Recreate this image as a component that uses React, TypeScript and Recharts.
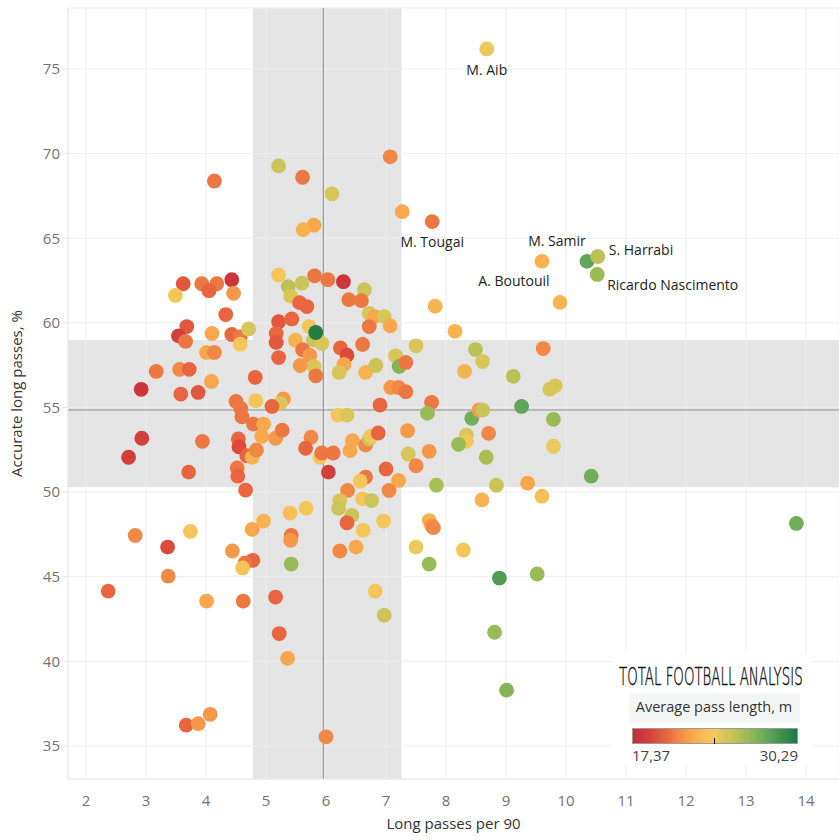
import { ScatterChart, Scatter, XAxis, YAxis, CartesianGrid, ReferenceArea, ReferenceLine } from 'recharts'

// long passes per 90 (x), accurate long passes % (y), average pass length in m (colour)
const longPassesP90 = [
  8.68, 7.77, 10.35, 10.53, 10.52, 9.9, 7.07, 7.27, 9.6, 7.82,
  8.15, 5.21, 5.61, 4.14, 6.1, 5.8, 5.62, 5.21, 5.81, 6.03,
  6.29, 4.43, 3.62, 3.93, 4.18, 4.05, 4.46, 3.49, 5.37, 5.6,
  5.41, 5.56, 5.68, 6.64, 6.38, 6.59, 4.33, 5.21, 5.43, 6.72,
  6.81, 6.97, 6.72, 7.07, 3.68, 3.54, 3.66, 4.1, 4.43, 4.57,
  4.57, 4.71, 4.01, 4.14, 5.17, 5.17, 5.49, 5.72, 5.79, 5.93,
  5.61, 5.73, 6.24, 6.35, 6.61, 6.3, 5.8, 5.57, 5.21, 5.83,
  6.22, 6.66, 6.83, 7.16, 7.22, 7.33, 7.5, 3.17, 3.56, 3.72,
  4.82, 4.09, 2.92, 3.58, 3.87, 4.5, 4.83, 4.58, 5.29, 5.24,
  5.1, 6.9, 7.08, 7.21, 7.33, 6.2, 6.35, 8.49, 8.61, 8.31,
  9.12, 9.62, 9.73, 9.82, 7.76, 7.69, 8.43, 9.26, 9.79, 8.55,
  8.61, 8.71, 8.34, 8.34, 8.21, 8.67, 9.79, 10.42, 7.84, 8.84,
  9.36, 8.6, 9.6, 7.72, 13.84, 7.72, 7.76, 7.79, 7.5, 8.29,
  7.72, 8.89, 9.52, 8.81, 9.01, 2.71, 2.93, 3.71, 3.94, 4.54,
  4.55, 4.68, 4.77, 4.84, 4.52, 4.53, 4.66, 4.6, 4.79, 4.96,
  4.93, 5.16, 5.27, 5.75, 5.66, 5.9, 5.93, 6.12, 6.04, 6.4,
  6.44, 6.66, 6.72, 6.75, 6.87, 7.36, 7.0, 6.66, 6.57, 7.21,
  7.37, 7.5, 7.05, 6.36, 6.23, 6.21, 6.61, 6.76, 5.67, 5.4,
  6.43, 6.35, 6.96, 4.96, 4.77, 3.74, 2.82, 6.62, 5.42, 5.41,
  3.36, 4.44, 6.23, 6.5, 4.78, 4.65, 4.61, 5.42, 3.37, 2.37,
  4.01, 4.62, 5.16, 6.82, 6.97, 5.22, 5.36, 3.67, 3.87, 4.07, 6.0, 5.83,
]

const accuratePct = [
  76.18, 65.98, 63.63, 63.92, 62.86, 61.21, 69.81, 66.57, 63.63, 60.98,
  59.5, 69.27, 68.6, 68.38, 67.62, 65.77, 65.5, 62.82, 62.78, 62.55,
  62.43, 62.55, 62.31, 62.31, 62.31, 61.9, 61.74, 61.62, 62.14, 62.35,
  61.58, 61.19, 60.96, 61.96, 61.37, 61.31, 60.49, 60.07, 60.23, 60.55,
  60.37, 60.37, 59.78, 59.82, 59.78, 59.23, 58.9, 59.37, 59.31, 59.17,
  58.74, 59.64, 58.25, 58.25, 59.37, 58.84, 58.97, 59.78, 58.99, 58.78,
  58.41, 58.09, 58.52, 58.09, 58.72, 57.54, 57.42, 57.48, 57.95, 56.87,
  57.07, 57.07, 57.48, 58.05, 57.42, 57.66, 58.64, 57.13, 57.25, 57.25,
  56.78, 56.54, 56.07, 55.79, 55.89, 55.36, 55.4, 54.95, 55.5, 55.24,
  55.06, 55.14, 56.18, 56.18, 55.93, 54.55, 54.55, 58.42, 57.72, 57.13,
  56.84, 58.48, 56.08, 56.28, 55.3, 54.65, 54.36, 55.06, 54.3, 54.85,
  54.85, 53.47, 53.37, 53.0, 52.82, 52.06, 52.71, 50.94, 50.41, 50.41,
  50.53, 49.54, 49.76, 52.41, 48.15, 48.32, 48.03, 47.9, 46.75, 46.58,
  45.75, 44.92, 45.16, 41.72, 38.3, 52.06, 53.18, 51.18, 53.0, 53.14,
  52.68, 52.15, 52.06, 52.49, 51.43, 50.94, 50.12, 54.45, 54.02, 54.02,
  53.3, 53.18, 53.66, 53.24, 52.59, 52.06, 52.31, 52.31, 51.18, 52.45,
  53.04, 52.78, 53.14, 53.3, 53.49, 53.63, 51.37, 50.89, 50.65, 50.69,
  52.25, 51.56, 50.1, 50.1, 49.5, 49.05, 49.6, 49.5, 49.05, 48.76,
  48.62, 48.19, 48.29, 48.29, 47.8, 47.68, 47.44, 47.74, 47.44, 47.15,
  46.75, 46.52, 46.52, 46.75, 45.97, 45.81, 45.52, 45.75, 45.03, 44.15,
  43.56, 43.56, 43.8, 44.15, 42.72, 41.64, 40.18, 36.23, 36.32, 36.87, 35.54, 59.43,
]

const avgPassLength = [
  24, 20.5, 28, 25.5, 26.5, 22.5, 21, 22, 22.5, 22.5,
  22.5, 25, 20.5, 20.5, 24.5, 22, 22.5, 23.5, 20.5, 20.5,
  18, 18, 19.5, 20.5, 20.5, 20, 21.5, 23.5, 25.5, 25,
  24.5, 20, 20, 25, 20.5, 20.5, 20, 19.5, 20, 24.5,
  22, 24.5, 20.5, 22, 19.5, 18.5, 20.5, 22, 20, 20.5,
  23.5, 24.5, 22, 21, 20, 19.5, 22.5, 23.5, 25, 24.5,
  20.5, 21.5, 20, 19, 20.5, 22, 24.5, 21.5, 20, 20.5,
  24.5, 22.5, 25, 24.5, 27, 20.5, 24.5, 20.5, 21, 20,
  20, 22, 18, 20, 19.5, 20.5, 23.5, 20.5, 21.5, 24.5,
  20, 20, 21.5, 21, 20.5, 23.5, 24.5, 25.5, 24.5, 22.5,
  25.5, 21, 24.5, 24.5, 20.5, 26.5, 27.5, 28, 26.5, 21.5,
  25, 21, 24.5, 23.5, 26.5, 26, 24, 27.5, 26, 25,
  22, 22.5, 23, 21.5, 27.5, 22.5, 21.5, 21, 24, 23.5,
  26.5, 28.5, 26.5, 26.5, 27, 18.5, 18.5, 20, 20.5, 20,
  19, 20, 22.5, 21, 20.5, 20, 20, 20.5, 20.5, 22,
  22, 21.5, 20.5, 21, 20, 23.5, 20.5, 20.5, 18.5, 22,
  22, 21, 25, 24, 20, 21.5, 20, 20.5, 23.5, 22,
  24.5, 21, 21, 21, 24.5, 25, 23.5, 25, 23.5, 23,
  25, 20, 23.5, 22.5, 22, 23.5, 21, 23.5, 20.5, 21.5,
  19, 21.5, 21, 22, 20, 20.5, 23.5, 26.5, 21, 20,
  22, 20.5, 20, 23.5, 25, 20, 22, 20, 21.5, 21.5, 21, 30,
]

// the first points in the arrays carry a name label
const playerNames = ['M. Aib', 'M. Tougai', 'M. Samir', 'S. Harrabi', 'Ricardo Nascimento', 'A. Boutouil']

const xTicks = [2, 3, 4, 5, 6, 7, 8, 9, 10, 11, 12, 13, 14]
const yTicks = [35, 40, 45, 50, 55, 60, 65, 70, 75]
const lengthMin = 17.37
const lengthMax = 30.29
const bandX = [4.78, 7.26]
const bandY = [50.28, 58.99]
const avgX = 5.955
const avgY = 54.85

const colorStops: [number, string][] = [
  [17.37, '#c3263a'],
  [19, '#dc4a3c'],
  [20, '#e8653f'],
  [21, '#f28845'],
  [22, '#f8a74c'],
  [23, '#f7bf56'],
  [23.83, '#f2ca5c'],
  [24.5, '#d8c65b'],
  [25.5, '#bcc156'],
  [26.5, '#98bb55'],
  [28, '#5fa65b'],
  [30.29, '#1b783f'],
]

const labelPos: Record<string, { dx: number; dy: number; anchor: 'start' | 'middle' | 'end' }> = {
  'M. Aib': { dx: 0, dy: 26, anchor: 'middle' },
  'M. Tougai': { dx: 0, dy: 25, anchor: 'middle' },
  'M. Samir': { dx: -30, dy: -15, anchor: 'middle' },
  'S. Harrabi': { dx: 11, dy: -1, anchor: 'start' },
  'Ricardo Nascimento': { dx: 10, dy: 16, anchor: 'start' },
  'A. Boutouil': { dx: -46, dy: -16, anchor: 'middle' },
}

const hex = (c: string) => [1, 3, 5].map((i) => parseInt(c.slice(i, i + 2), 16))

function lengthColor(v: number) {
  if (v <= colorStops[0][0]) return colorStops[0][1]
  for (let i = 1; i < colorStops.length; i++) {
    const [v1, c1] = colorStops[i]
    if (v <= v1) {
      const [v0, c0] = colorStops[i - 1]
      const t = (v - v0) / (v1 - v0)
      const a = hex(c0)
      const b = hex(c1)
      const rgb = a.map((k, j) => Math.round(k + (b[j] - k) * t))
      return `rgb(${rgb.join(',')})`
    }
  }
  return colorStops[colorStops.length - 1][1]
}

const players = longPassesP90.map((x, i) => ({
  x,
  y: accuratePct[i],
  len: avgPassLength[i],
  name: playerNames[i] ?? '',
}))

const FONT = '"Open Sans", "Noto Sans", sans-serif'

function PlayerDot(props: any) {
  const { cx, cy, payload } = props
  if (cx == null || cy == null) return null
  const lp = payload.name ? labelPos[payload.name] : null
  return (
    <g>
      <circle cx={cx} cy={cy} r={7.4} fill={lengthColor(payload.len)} />
      {lp && (
        <text x={cx + lp.dx} y={cy + lp.dy} textAnchor={lp.anchor} fontSize={14} fill="#222" fontFamily={FONT}>
          {payload.name}
        </text>
      )}
    </g>
  )
}

function Legend() {
  const span = lengthMax - lengthMin
  return (
    <svg width={839} height={840} style={{ position: 'absolute', left: 0, top: 0, pointerEvents: 'none' }}>
      <defs>
        <linearGradient id="lenGrad" x1="0" x2="1" y1="0" y2="0">
          {colorStops.map(([v, c]) => (
            <stop key={v} offset={(v - lengthMin) / span} stopColor={c} />
          ))}
        </linearGradient>
      </defs>
      <rect x={612} y={653} width={200} height={112} fill="#fff" />
      {/* logo: a condensed, squeezed wordmark */}
      <g transform="translate(619 685) scale(0.55 1)">
        <text
          x={0}
          y={0}
          fontSize={25}
          fontWeight={200}
          fontFamily='"DejaVu Sans", sans-serif'
          textLength={334}
          lengthAdjust="spacingAndGlyphs"
          fill="#151515"
          stroke="#151515"
          strokeWidth={0.5}
        >
          TOTAL FOOTBALL ANALYSIS
        </text>
      </g>
      <rect x={629} y={693} width={171} height={30} fill="#f4f6f6" />
      <text x={714} y={712} textAnchor="middle" fontSize={14.5} fill="#333" fontFamily={FONT}>
        Average pass length, m
      </text>
      <rect x={632.5} y={728.5} width={165} height={15} fill="url(#lenGrad)" stroke="#9a9a9a" />
      <line x1={714.5} x2={714.5} y1={738} y2={744} stroke="#111" />
      <text x={632} y={761} fontSize={15} fill="#444" fontFamily={FONT}>
        17,37
      </text>
      <text x={798} y={761} textAnchor="end" fontSize={15} fill="#444" fontFamily={FONT}>
        30,29
      </text>
    </svg>
  )
}

export default function App() {
  return (
    <div style={{ position: 'absolute', left: 0, top: 0, width: 839, height: 840, background: '#fff', fontFamily: FONT }}>
      <ScatterChart width={839} height={840} margin={{ top: 8, right: 0, bottom: 0, left: 0 }}>
        <ReferenceArea x1={bandX[0]} x2={bandX[1]} fill="#e4e4e4" fillOpacity={1} stroke="none" zIndex={-200} />
        <ReferenceArea y1={bandY[0]} y2={bandY[1]} fill="#e4e4e4" fillOpacity={1} stroke="none" zIndex={-200} />
        <CartesianGrid stroke="#eeeeee" />
        <XAxis
          dataKey="x"
          type="number"
          domain={[1.7, 14.55]}
          ticks={xTicks}
          allowDataOverflow
          height={61}
          tickLine={false}
          tickMargin={10}
          axisLine={{ stroke: '#e6e6e6' }}
          tick={{ fontSize: 15, fill: '#737373', fontFamily: FONT }}
          label={{ value: 'Long passes per 90', position: 'insideBottom', offset: 11, fontSize: 15, fill: '#333', fontFamily: FONT }}
        />
        <YAxis
          dataKey="y"
          type="number"
          domain={[33.05, 78.6]}
          ticks={yTicks}
          allowDataOverflow
          width={68}
          tickSize={5}
          tickMargin={3}
          tickLine={{ stroke: '#e6e6e6' }}
          axisLine={{ stroke: '#e6e6e6' }}
          tick={{ fontSize: 15, fill: '#737373', fontFamily: FONT }}
          label={{
            value: 'Accurate long passes, %',
            angle: -90,
            position: 'insideLeft',
            offset: 17,
            fontSize: 15,
            fill: '#333',
            fontFamily: FONT,
            style: { textAnchor: 'middle' },
          }}
        />
        <ReferenceLine x={avgX} stroke="#8e8e8e" />
        <ReferenceLine y={avgY} stroke="#8e8e8e" />
        <Scatter data={players} shape={PlayerDot} isAnimationActive={false} />
      </ScatterChart>
      <Legend />
    </div>
  )
}
